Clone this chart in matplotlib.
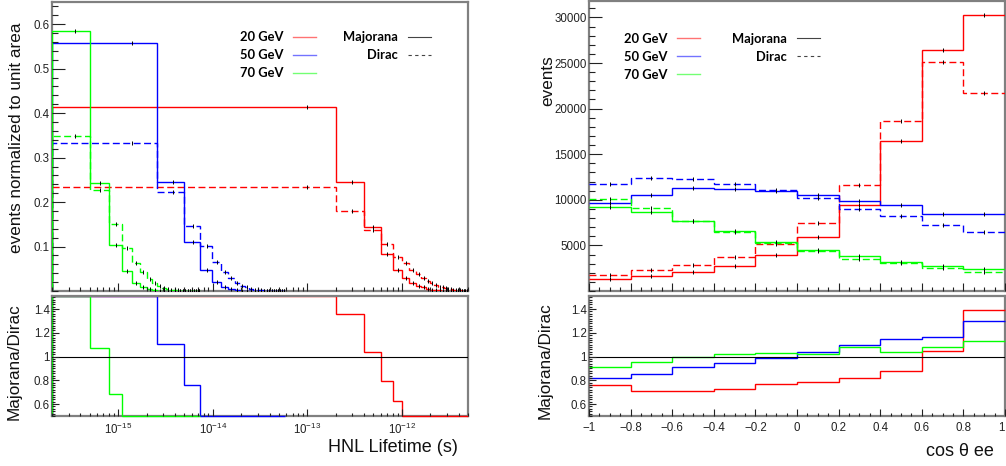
import numpy as np
import matplotlib
matplotlib.use("Agg")
import matplotlib.pyplot as plt
from matplotlib.lines import Line2D
from matplotlib.font_manager import FontProperties
from matplotlib.ticker import (MultipleLocator, FixedLocator, LogLocator,
                               NullFormatter, FuncFormatter, LogFormatterSciNotation)

# ---------------- data: left panel (HNL lifetime, normalised to unit area) -------------
tau_start = 2e-16
tau_width_20 = 2e-13
tau_width_50 = 2.4e-15
tau_width_70 = 3e-16

maj_20 = [0.413, 0.245, 0.143, 0.084, 0.048, 0.030, 0.018, 0.012, 0.008, 0.005, 0.003,
          0.002, 0.0012, 0.0008, 0.0005, 0.0003, 0.0002, 0.0001, 0.0001, 0.00005, 0.00003,
          0.00002, 0.00001, 0.00001, 0.000005]
dir_20 = [0.235, 0.180, 0.138, 0.106, 0.077, 0.062, 0.048, 0.038, 0.029, 0.022, 0.017,
          0.013, 0.010, 0.008, 0.006, 0.005, 0.004, 0.003, 0.0022, 0.0016, 0.0012,
          0.0009, 0.0006, 0.0004, 0.0003]
maj_50 = [0.558, 0.245, 0.111, 0.048, 0.020, 0.009, 0.004, 0.002, 0.001, 0.0005, 0.0003,
          0.0002, 0.0001, 0.00005, 0.00003, 0.00002, 0.00001, 0.00001, 0.000005, 0.000003,
          0.000002, 0.000001, 0.000001, 0.0000005]
dir_50 = [0.333, 0.222, 0.146, 0.101, 0.065, 0.043, 0.029, 0.019, 0.012, 0.008, 0.005,
          0.003, 0.002, 0.0013, 0.0008, 0.0005, 0.0003, 0.0002, 0.00012, 0.00008, 0.00005,
          0.00003, 0.00002, 0.00001]
maj_70 = [0.584, 0.244, 0.103, 0.044, 0.019, 0.008, 0.0035, 0.0015, 0.0007, 0.0003,
          0.00015, 0.00007, 0.00003, 0.00002, 0.00001, 0.000005, 0.000003, 0.000002,
          0.000001, 0.000001, 0.0000005, 0.0000003, 0.0000002, 0.0000001]
dir_70 = [0.348, 0.228, 0.150, 0.097, 0.064, 0.042, 0.027, 0.017, 0.011, 0.007, 0.0045,
          0.003, 0.002, 0.0012, 0.0008, 0.0005, 0.0003, 0.0002, 0.00013, 0.00008, 0.00005,
          0.00003, 0.00002, 0.00001]

# ---------------- data: right panel (cos theta ee, events) ------------------------------
cos_edges = [-1.0, -0.8, -0.6, -0.4, -0.2, 0.0, 0.2, 0.4, 0.6, 0.8, 1.0]
maj_cos_20 = [1320, 1640, 2050, 2720, 4000, 5880, 9480, 16400, 26380, 30250]
dir_cos_20 = [1740, 2320, 2880, 3740, 5200, 7460, 11620, 18620, 25150, 21740]
maj_cos_50 = [9600, 10550, 11270, 11160, 10950, 10550, 9820, 9380, 8430, 8400]
dir_cos_50 = [11750, 12350, 12300, 11780, 11050, 10170, 8950, 8170, 7250, 6480]
maj_cos_70 = [9250, 8650, 7680, 6560, 5420, 4480, 3850, 3180, 2720, 2400]
dir_cos_70 = [10100, 9100, 7680, 6420, 5270, 4400, 3550, 3060, 2520, 2120]

mass_labels = ["20 GeV", "50 GeV", "70 GeV"]
type_labels = ["Majorana", "Dirac"]
colors = ["#ff0000", "#0000ff", "#00ff00"]

# ---------------- style ------------------------------------------------------------------
plt.rcParams["font.family"] = ["Liberation Sans", "DejaVu Sans"]
plt.rcParams["mathtext.fontset"] = "custom"
plt.rcParams["mathtext.rm"] = "Liberation Sans"
plt.rcParams["mathtext.it"] = "Liberation Sans:italic"
plt.rcParams["axes.unicode_minus"] = True

W, H = 1006, 466
fig = plt.figure(figsize=(W / 100, H / 100), dpi=100)

def px_axes(x0, y0, x1, y1):
    return fig.add_axes([x0 / W, 1 - y1 / H, (x1 - x0) / W, (y1 - y0) / H])

ax_lt = px_axes(52, 2, 468, 291)
ax_lb = px_axes(52, 296, 468, 416)
ax_rt = px_axes(589, 1, 1005, 291)
ax_rb = px_axes(589, 296, 1005, 416)

SPINE = "#808080"
TICK = "#222222"
DASH = (0, (5, 2.5))
LW = 1.0
RLO, RHI = 0.5, 1.51

def style_axes(ax, ymaj, ymin, xmaj, xmin):
    for name, s in ax.spines.items():
        s.set_color(SPINE)
        s.set_linewidth(1.6)
        s.set_zorder(3 if name == "top" else 0.5)
    ax.tick_params(which="both", direction="in", top=False, right=False,
                   color=TICK, labelcolor=TICK, width=0.8, labelsize=8.3)
    ax.tick_params(axis="y", which="major", length=ymaj, pad=1.5)
    ax.tick_params(axis="y", which="minor", length=ymin)
    ax.tick_params(axis="x", which="major", length=xmaj, pad=4)
    ax.tick_params(axis="x", which="minor", length=xmin)

gfmt = FuncFormatter(lambda v, p: ("%g" % (round(v, 6) + 0.0)).replace("-", "\u2212"))

# ---------------- left top ---------------------------------------------------------------
left_sets = [(maj_20, dir_20, tau_width_20), (maj_50, dir_50, tau_width_50),
             (maj_70, dir_70, tau_width_70)]
for (m, d, w), c in zip(left_sets, colors):
    m = np.asarray(m); d = np.asarray(d)
    edges = tau_start + w * np.arange(len(m) + 1)
    centers = 0.5 * (edges[:-1] + edges[1:])
    ax_lt.stairs(d, edges, baseline=0, color=c, lw=LW, linestyle=DASH)
    ax_lt.stairs(m, edges, baseline=0, color=c, lw=LW)
    ax_lt.plot(centers, m, ls="none", marker="|", ms=2.6, mew=0.7, color="k")
    ax_lt.plot(centers, d, ls="none", marker="|", ms=2.6, mew=0.7, color="k")
    # ratio (out-of-range values shown at the frame edges, as ROOT does)
    r = np.clip(m / d, RLO, RHI)
    ax_lb.stairs(r, edges, baseline=RLO, color=c, lw=LW, clip_on=False)

for ax in (ax_lt, ax_lb):
    ax.set_xscale("log")
    ax.set_xlim(2e-16, 5e-12)
    ax.xaxis.set_major_locator(LogLocator(base=10, numticks=20))
    ax.xaxis.set_minor_locator(LogLocator(base=10, subs=np.arange(2, 10), numticks=100))
    ax.xaxis.set_minor_formatter(NullFormatter())

ax_lt.set_ylim(0, 0.65)
ax_lt.yaxis.set_major_locator(FixedLocator([0.1, 0.2, 0.3, 0.4, 0.5, 0.6]))
ax_lt.yaxis.set_minor_locator(MultipleLocator(0.02))
ax_lt.yaxis.set_major_formatter(gfmt)
ax_lt.xaxis.set_major_formatter(NullFormatter())
style_axes(ax_lt, 9.4, 4.6, 5.8, 2.9)

ax_lb.axhline(1.0, color="k", lw=0.8, zorder=1)
ax_lb.set_ylim(RLO, RHI)
ax_lb.yaxis.set_major_locator(FixedLocator([0.6, 0.8, 1.0, 1.2, 1.4]))
ax_lb.yaxis.set_minor_locator(MultipleLocator(0.02))
ax_lb.yaxis.set_major_formatter(gfmt)
ax_lb.xaxis.set_major_formatter(LogFormatterSciNotation())
style_axes(ax_lb, 5.0, 2.2, 5.0, 2.5)

# ---------------- right top --------------------------------------------------------------
right_sets = [(maj_cos_20, dir_cos_20), (maj_cos_50, dir_cos_50), (maj_cos_70, dir_cos_70)]
ce = np.asarray(cos_edges)
cc = 0.5 * (ce[:-1] + ce[1:])
for (m, d), c in zip(right_sets, colors):
    m = np.asarray(m, float); d = np.asarray(d, float)
    ax_rt.stairs(d, ce, baseline=None, color=c, lw=LW, linestyle=DASH)
    ax_rt.stairs(m, ce, baseline=None, color=c, lw=LW)
    ax_rt.plot(cc, m, ls="none", marker="|", ms=2.6, mew=0.7, color="k")
    ax_rt.plot(cc, d, ls="none", marker="|", ms=2.6, mew=0.7, color="k")
    r = np.clip(m / d, RLO, RHI)
    ax_rb.stairs(r, ce, baseline=None, color=c, lw=LW, clip_on=False)

for ax in (ax_rt, ax_rb):
    ax.set_xlim(-1, 1)
    ax.xaxis.set_major_locator(FixedLocator(cos_edges))
    ax.xaxis.set_minor_locator(MultipleLocator(0.05))

ax_rt.set_ylim(0, 31800)
ax_rt.yaxis.set_major_locator(FixedLocator([5000, 10000, 15000, 20000, 25000, 30000]))
ax_rt.yaxis.set_minor_locator(MultipleLocator(1000))
ax_rt.yaxis.set_major_formatter(gfmt)
ax_rt.xaxis.set_major_formatter(NullFormatter())
style_axes(ax_rt, 9.4, 4.6, 5.8, 2.9)

ax_rb.axhline(1.0, color="k", lw=0.8, zorder=1)
ax_rb.set_ylim(RLO, RHI)
ax_rb.yaxis.set_major_locator(FixedLocator([0.6, 0.8, 1.0, 1.2, 1.4]))
ax_rb.yaxis.set_minor_locator(MultipleLocator(0.02))
ax_rb.yaxis.set_major_formatter(gfmt)
ax_rb.xaxis.set_major_formatter(gfmt)
style_axes(ax_rb, 5.0, 2.2, 5.0, 2.5)
# keep the last label ("1") inside the figure
_xt = ax_rb.xaxis.get_major_ticks(len(cos_edges))
_xt[-1].label1.set_horizontalalignment("right")

# ---------------- legends ----------------------------------------------------------------
legfont = FontProperties(family=["Lato", "DejaVu Sans"], weight="bold", size=9.3)
mass_handles = [Line2D([], [], color=c, lw=1.0, alpha=0.55) for c in colors]
type_handles = [Line2D([], [], color="#444444", lw=0.8),
                Line2D([], [], color="#444444", lw=0.8, linestyle=(0, (3, 3)))]

def add_legends(ax, x1, x2, ytop):
    kw = dict(loc="upper left", frameon=False, markerfirst=False, prop=legfont,
              handlelength=1.8, handletextpad=0.75, labelspacing=0.45,
              borderpad=0, borderaxespad=0)
    l1 = ax.legend(mass_handles, mass_labels, bbox_to_anchor=(x1, ytop), **kw)
    ax.add_artist(l1)
    ax.legend(type_handles, type_labels, bbox_to_anchor=(x2, ytop), **kw)

add_legends(ax_lt, 0.452, 0.70, 0.898)
add_legends(ax_rt, 0.084, 0.344, 0.890)

# ---------------- axis titles ------------------------------------------------------------
def ftext(x, y, s, **kw):
    fig.text(x / W, 1 - y / H, s, **kw)

ftext(17, 138, "events normalized to unit area", rotation=90, ha="center", va="center",
      fontsize=12.3, color="#111111")
ftext(14, 362, "Majorana/Dirac", rotation=90, ha="center", va="center",
      fontsize=12.3, color="#111111")
ftext(458, 448, "HNL Lifetime (s)", ha="right", va="center", fontsize=13, color="#111111")
ftext(548, 81, "events", rotation=90, ha="center", va="center", fontsize=12.3,
      color="#111111")
ftext(545, 361, "Majorana/Dirac", rotation=90, ha="center", va="center",
      fontsize=12.3, color="#111111")
ftext(994, 451, "cos \u03b8 ee", ha="right", va="center", fontsize=13, color="#111111")

fig.savefig("out.png", dpi=100)
